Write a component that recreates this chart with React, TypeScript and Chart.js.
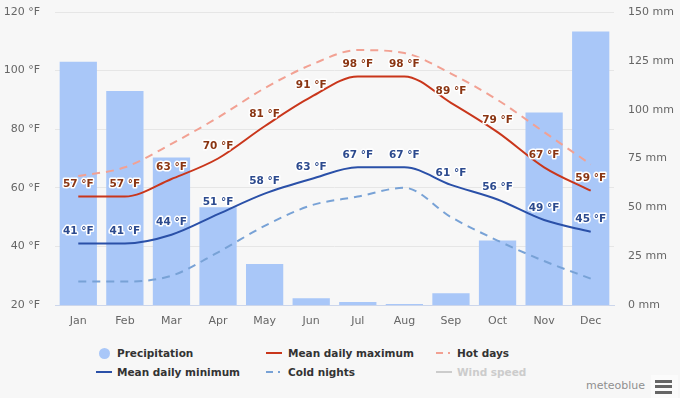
import React, { useEffect, useRef } from 'react';
import { Chart, registerables } from 'chart.js';

Chart.register(...registerables);

const months = ['Jan', 'Feb', 'Mar', 'Apr', 'May', 'Jun', 'Jul', 'Aug', 'Sep', 'Oct', 'Nov', 'Dec'];
const precipitation = [124.5, 109.5, 75.5, 50, 21, 3.5, 1.5, 0.5, 6, 33, 98.5, 140];
const meanMax = [57, 57, 63, 70, 81, 91, 98, 98, 89, 79, 67, 59];
const meanMin = [41, 41, 44, 51, 58, 63, 67, 67, 61, 56, 49, 45];
const hotDays = [64, 67, 75, 84, 94, 102, 107, 106, 99, 90, 79, 68];
const coldNights = [28, 28, 30, 38, 47, 54, 57, 60, 50, 42, 35, 29];
const tempTicks = [20, 40, 60, 80, 100, 120];
const precipTicks = [0, 25, 50, 75, 100, 125, 150];

const FONT = '"DejaVu Sans", Verdana, sans-serif';

const labelColors: Record<number, string> = { 1: '#8a3512', 2: '#2c4a8e' };

const pointLabels = {
  id: 'pointLabels',
  afterDatasetsDraw(chart: any) {
    const ctx = chart.ctx;
    ctx.save();
    ctx.font = 'bold 10.5px ' + FONT;
    ctx.textAlign = 'center';
    ctx.textBaseline = 'middle';
    ctx.lineJoin = 'round';
    chart.data.datasets.forEach((ds: any, i: number) => {
      const color = labelColors[i];
      if (!color) return;
      const meta = chart.getDatasetMeta(i);
      meta.data.forEach((pt: any, j: number) => {
        const text = ds.data[j] + ' °F';
        const x = pt.x;
        const y = pt.y - 12;
        ctx.strokeStyle = '#ffffff';
        ctx.lineWidth = 3;
        ctx.strokeText(text, x, y);
        ctx.fillStyle = color;
        ctx.fillText(text, x, y);
      });
    });
    ctx.restore();
  },
};

export default function App() {
  const ref = useRef<HTMLCanvasElement>(null);

  useEffect(() => {
    document.body.style.margin = '0';
    if (!ref.current) return;
    const chart = new Chart(ref.current, {
      type: 'bar',
      data: {
        labels: months,
        datasets: [
          {
            type: 'bar',
            label: 'Precipitation',
            data: precipitation,
            yAxisID: 'y1',
            backgroundColor: '#a9c7f8',
            barPercentage: 0.8,
            categoryPercentage: 1,
            order: 10,
          },
          {
            type: 'line',
            label: 'Mean daily maximum',
            data: meanMax,
            yAxisID: 'y',
            borderColor: '#c9361b',
            borderWidth: 2,
            pointRadius: 0,
            cubicInterpolationMode: 'monotone',
            order: 2,
          },
          {
            type: 'line',
            label: 'Mean daily minimum',
            data: meanMin,
            yAxisID: 'y',
            borderColor: '#2a50a8',
            borderWidth: 2,
            pointRadius: 0,
            cubicInterpolationMode: 'monotone',
            order: 2,
          },
          {
            type: 'line',
            label: 'Hot days',
            data: hotDays,
            yAxisID: 'y',
            borderColor: '#f2a193',
            borderWidth: 2,
            borderDash: [8, 6],
            pointRadius: 0,
            cubicInterpolationMode: 'monotone',
            order: 3,
          },
          {
            type: 'line',
            label: 'Cold nights',
            data: coldNights,
            yAxisID: 'y',
            borderColor: '#78a2d6',
            borderWidth: 2,
            borderDash: [8, 6],
            pointRadius: 0,
            cubicInterpolationMode: 'monotone',
            order: 3,
          },
        ],
      } as any,
      options: {
        animation: false,
        responsive: false,
        maintainAspectRatio: false,
        layout: { padding: { top: 12, left: 0, right: 0, bottom: 0 } },
        plugins: { legend: { display: false }, tooltip: { enabled: false } },
        scales: {
          x: {
            grid: { display: false, drawTicks: false },
            border: { color: '#ccd6eb' },
            ticks: { color: '#666666', font: { family: FONT, size: 11 }, padding: 10 },
            afterFit(s: any) {
              s.height = 35;
              s.paddingLeft = 0;
              s.paddingRight = 0;
            },
          },
          y: {
            position: 'left',
            min: 20,
            max: 120,
            afterBuildTicks(s: any) {
              s.ticks = tempTicks.map((v) => ({ value: v }));
            },
            grid: { color: '#e6e6e6', drawTicks: false },
            border: { display: false },
            ticks: {
              color: '#666666',
              font: { family: FONT, size: 11 },
              padding: 15,
              callback: (v: any) => v + ' °F',
            },
            afterFit(s: any) {
              s.width = 55;
              s.paddingTop = 0;
              s.paddingBottom = 0;
            },
          },
          y1: {
            position: 'right',
            min: 0,
            max: 150,
            afterBuildTicks(s: any) {
              s.ticks = precipTicks.map((v) => ({ value: v }));
            },
            grid: { display: false, drawTicks: false },
            border: { display: false },
            ticks: {
              color: '#666666',
              font: { family: FONT, size: 11 },
              padding: 14,
              callback: (v: any) => v + ' mm',
            },
            afterFit(s: any) {
              s.width = 66;
              s.paddingTop = 0;
              s.paddingBottom = 0;
            },
          },
        },
      } as any,
      plugins: [pointLabels],
    });
    return () => chart.destroy();
  }, []);

  const legendText: React.CSSProperties = {
    position: 'absolute',
    font: 'bold 10.5px ' + FONT,
    color: '#333333',
    lineHeight: '14px',
    whiteSpace: 'nowrap',
  };
  const lineSym = (x: number, y: number, color: string, dashed: boolean) =>
    dashed ? (
      <>
        <div style={{ position: 'absolute', left: x, top: y - 1, width: 7, height: 2, background: color }} />
        <div style={{ position: 'absolute', left: x + 12, top: y - 1, width: 2, height: 2, background: color }} />
      </>
    ) : (
      <div style={{ position: 'absolute', left: x, top: y - 1, width: 16, height: 2, background: color }} />
    );

  return (
    <div
      style={{
        position: 'fixed',
        left: 0,
        top: 0,
        width: 680,
        height: 398,
        background: '#f7f7f7',
        overflow: 'hidden',
        fontFamily: FONT,
      }}
    >
      <canvas ref={ref} width={680} height={340} style={{ position: 'absolute', left: 0, top: 0, width: 680, height: 340 }} />
      {/* legend row 1 */}
      <div style={{ position: 'absolute', left: 99, top: 348, width: 11, height: 11, borderRadius: '50%', background: '#a9c7f8' }} />
      <div style={{ ...legendText, left: 117, top: 346 }}>Precipitation</div>
      {lineSym(266, 353, '#c9361b', false)}
      <div style={{ ...legendText, left: 288, top: 346 }}>Mean daily maximum</div>
      {lineSym(436, 353, '#f2a193', true)}
      <div style={{ ...legendText, left: 457, top: 346 }}>Hot days</div>
      {/* legend row 2 */}
      {lineSym(96, 372, '#2a50a8', false)}
      <div style={{ ...legendText, left: 117, top: 365 }}>Mean daily minimum</div>
      {lineSym(266, 372, '#78a2d6', true)}
      <div style={{ ...legendText, left: 288, top: 365 }}>Cold nights</div>
      {lineSym(436, 372, '#cccccc', false)}
      <div style={{ ...legendText, left: 457, top: 365, color: '#cccccc' }}>Wind speed</div>
      {/* credits */}
      <div style={{ position: 'absolute', left: 586, top: 379, font: '11px ' + FONT, color: '#909090' }}>meteoblue</div>
      <div style={{ position: 'absolute', left: 651, top: 375, width: 27, height: 23, background: '#fbfbfb' }} />
      <div style={{ position: 'absolute', left: 655, top: 380, width: 17, height: 3, background: '#666666' }} />
      <div style={{ position: 'absolute', left: 655, top: 385, width: 17, height: 3, background: '#666666' }} />
      <div style={{ position: 'absolute', left: 655, top: 391, width: 17, height: 3, background: '#666666' }} />
    </div>
  );
}
